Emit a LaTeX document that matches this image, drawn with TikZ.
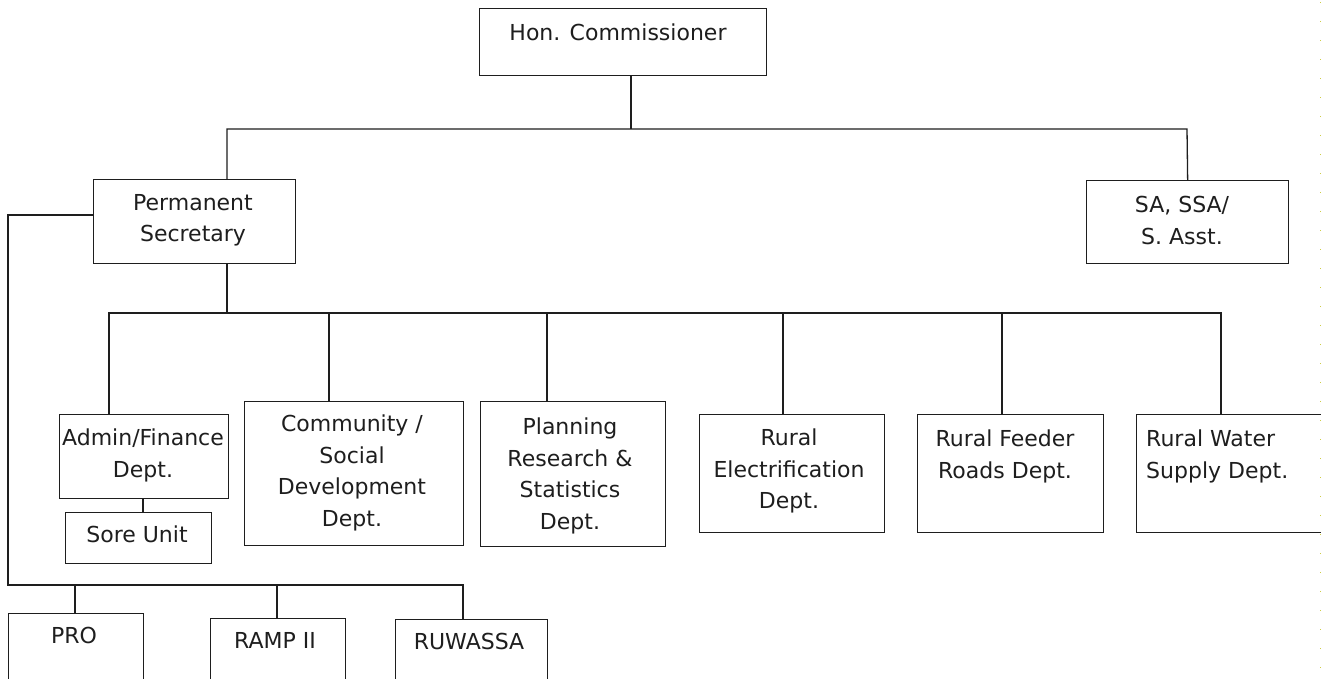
\documentclass[tikz,border=0pt]{standalone}
\usepackage{fontspec}
\newfontfamily\orgfont{DejaVu Sans}
\definecolor{edgeyellow}{RGB}{205,205,70}
\definecolor{inkgray}{RGB}{30,30,30}
\tikzset{
  orgbox/.style={draw=inkgray, line width=1.3pt, rectangle, inner sep=0pt, anchor=north west, fill=none},
  orgtext/.style={font=\orgfont\fontsize{22}{31.5}\selectfont, text=inkgray, inner sep=0pt, align=center, anchor=north},
  orgline/.style={draw=inkgray, line width=1.3pt},
}
\begin{document}
\begin{tikzpicture}[x=1pt, y=-1pt]
\useasboundingbox (0,0) rectangle (1321,678);
\clip (0,0) rectangle (1321,678);
\fill[white] (0,0) rectangle (1321,678);
% boxes
\node[orgbox, minimum width=287pt, minimum height=67pt] (hon) at (479,8) {};
\node[orgbox, minimum width=202pt, minimum height=84pt] (ps) at (93,179) {};
\node[orgbox, minimum width=202pt, minimum height=83pt] (sa) at (1086,180) {};
\node[orgbox, minimum width=169pt, minimum height=84pt] (admin) at (59,414) {};
\node[orgbox, minimum width=146pt, minimum height=51pt] (sore) at (65,512) {};
\node[orgbox, minimum width=219pt, minimum height=144pt] (comm) at (244,401) {};
\node[orgbox, minimum width=185pt, minimum height=145pt] (plan) at (480,401) {};
\node[orgbox, minimum width=185pt, minimum height=118pt] (elec) at (699,414) {};
\node[orgbox, minimum width=186pt, minimum height=118pt] (feed) at (917,414) {};
\node[orgbox, minimum width=200pt, minimum height=118pt] (water) at (1136,414) {};
\node[orgbox, minimum width=135pt, minimum height=80pt] (pro) at (8,613) {};
\node[orgbox, minimum width=135pt, minimum height=80pt] (ramp) at (210,618) {};
\node[orgbox, minimum width=152pt, minimum height=80pt] (ruw) at (395,619) {};
% texts
\node[orgtext] (thon) at (618,24) {Hon. Commissioner};
\node[orgtext] (tps) at (193,194) {Permanent\\Secretary};
\node[orgtext] (tsa) at (1182,196) {SA, SSA/\\S. Asst.};
\node[orgtext] (tadmin) at (143,429) {Admin/Finance\\Dept.};
\node[orgtext] (tsore) at (137,526) {Sore Unit};
\node[orgtext] (tcomm) at (352,415) {Community /\\Social\\Development\\Dept.};
\node[orgtext] (tplan) at (570,418) {Planning\\Research \&\\Statistics\\Dept.};
\node[orgtext] (telec) at (789,429) {Rural\\Electrification\\Dept.};
\node[orgtext] (tfeed) at (1005,430) {Rural Feeder\\Roads Dept.};
\node[orgtext, align=left, anchor=north west] (twater) at (1146,430) {Rural Water\\Supply Dept.};
\node[orgtext] (tpro) at (74,627) {PRO};
\node[orgtext] (tramp) at (275,632) {RAMP II};
\node[orgtext] (truw) at (469,633) {RUWASSA};
% connectors
\draw[orgline] (hon.south -| 631,0) -- (631,129);
\draw[orgline] (ps.north -| 227,0) -- (227,129) -- (1187,129) -- (sa.north);
\draw[orgline] (ps.south -| 227,0) -- (227,313);
\draw[orgline] (admin.north -| 109,0) -- (109,313) -- (1221,313) -- (water.north -| 1221,0);
\draw[orgline] (comm.north -| 329,0) -- (329,313);
\draw[orgline] (plan.north -| 547,0) -- (547,313);
\draw[orgline] (elec.north -| 783,0) -- (783,313);
\draw[orgline] (feed.north -| 1002,0) -- (1002,313);
\draw[orgline] (admin.south -| 143,0) -- (sore.north -| 143,0);
\draw[orgline] (ps.west |- 0,215) -- (8,215) -- (8,585) -- (463,585) -- (ruw.north -| 463,0);
\draw[orgline] (pro.north -| 75,0) -- (75,585);
\draw[orgline] (ramp.north -| 277,0) -- (277,585);
% page edge dots
\draw[edgeyellow, line width=1pt, dash pattern=on 1pt off 18pt] (1320,2) -- (1320,678);
\end{tikzpicture}
\end{document}
